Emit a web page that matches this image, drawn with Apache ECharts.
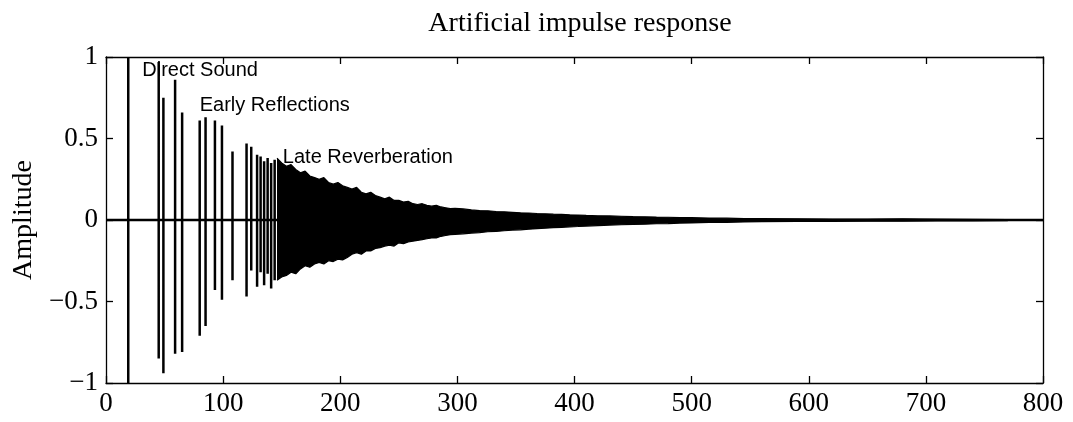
<!DOCTYPE html>
<html>
<head>
<meta charset="utf-8">
<script src="https://cdn.jsdelivr.net/npm/echarts@6/dist/echarts.min.js"></script>
<style>
  html, body { margin: 0; padding: 0; background: #fff; }
  #chart { width: 1073px; height: 422px; }
</style>
</head>
<body>
<div id="chart"></div>
<script>
// direct sound + early reflections: sample index, positive peak, negative peak
const spikeT = [19, 45, 49, 59, 65, 80, 85, 93, 99, 108, 120, 124, 129, 132, 135, 138, 141, 144];
const spikeUp = [1.0, 0.97, 0.75, 0.86, 0.66, 0.61, 0.63, 0.61, 0.58, 0.42, 0.47, 0.45, 0.40, 0.39, 0.36, 0.38, 0.35, 0.37];
const spikeDown = [-1.0, -0.85, -0.94, -0.82, -0.81, -0.71, -0.65, -0.43, -0.49, -0.37, -0.47, -0.31, -0.41, -0.32, -0.40, -0.33, -0.42, -0.37];

// late reverberation envelope (upper / lower edge of the dense part)
const revT = [146, 150, 154, 158, 162, 166, 170, 174, 178, 182, 186, 190, 194, 198, 202, 206, 210, 214, 218, 222,
  226, 230, 234, 238, 242, 246, 250, 254, 258, 262, 266, 270, 274, 278, 282, 286, 290, 294, 298,
  305, 312, 319, 326, 333, 340, 347, 354, 361, 368, 375, 382, 389, 396, 403, 410, 420, 430, 440, 450,
  460, 470, 480, 490, 500, 515, 530, 545, 560, 590, 620, 650, 680, 710, 740, 770];
const revUp = [0.38, 0.35, 0.33, 0.34, 0.31, 0.29, 0.30, 0.27, 0.26, 0.25, 0.26, 0.23, 0.22, 0.23, 0.21, 0.20, 0.19, 0.20, 0.17, 0.16,
  0.17, 0.15, 0.14, 0.13, 0.14, 0.12, 0.12, 0.11, 0.115, 0.10, 0.095, 0.10, 0.09, 0.085, 0.09, 0.08, 0.075, 0.07, 0.072,
  0.068, 0.062, 0.058, 0.056, 0.052, 0.05, 0.047, 0.044, 0.043, 0.04, 0.038, 0.036, 0.035, 0.032, 0.03, 0.028, 0.026, 0.025, 0.023, 0.021,
  0.02, 0.018, 0.017, 0.015, 0.014, 0.012, 0.011, 0.009, 0.008, 0.007, 0.006, 0.006, 0.007, 0.005, 0.004, 0.003];
const revDown = [-0.37, -0.35, -0.34, -0.32, -0.33, -0.30, -0.28, -0.29, -0.27, -0.26, -0.27, -0.25, -0.255, -0.24, -0.245, -0.23, -0.21, -0.20, -0.21, -0.19,
  -0.19, -0.175, -0.17, -0.16, -0.155, -0.16, -0.14, -0.145, -0.135, -0.13, -0.125, -0.12, -0.115, -0.11, -0.11, -0.10, -0.095, -0.09, -0.088,
  -0.085, -0.08, -0.077, -0.072, -0.07, -0.066, -0.062, -0.06, -0.056, -0.053, -0.05, -0.047, -0.045, -0.042, -0.04, -0.037, -0.034, -0.031, -0.029, -0.027,
  -0.026, -0.023, -0.022, -0.019, -0.018, -0.015, -0.014, -0.012, -0.01, -0.009, -0.008, -0.007, -0.007, -0.006, -0.005, -0.004];

// annotations: left edge sample, amplitude, text
const noteT = [31, 80, 151];
const noteAmp = [0.92, 0.705, 0.386];
const noteText = ["Direct Sound", "Early Reflections", "Late Reverberation"];

const xTicks = [0, 800, 100]; // min, max, interval
const yTicks = [-1, 1, 0.5];

const serif = "'Liberation Serif', 'DejaVu Serif', serif";
const sans = "'Liberation Sans', Arial, sans-serif";
const ink = "#000";

// signal line: zero baseline with vertical spikes
const signal = [[0, 0]];
spikeT.forEach((t, i) => {
  signal.push([t, 0], [t, spikeUp[i]], [t, spikeDown[i]], [t, 0]);
});
signal.push([800, 0]);

const upper = revT.map((t, i) => [t, revUp[i]]);
const lower = revT.map((t, i) => [t, revDown[i]]);
const notes = noteT.map((t, i) => [t, noteAmp[i], noteText[i]]);

const fmtY = v => (v < 0 ? "\u2212" + Math.abs(v) : String(v));

const chart = echarts.init(document.getElementById("chart"), null, { renderer: "canvas" });

const axisCommon = {
  type: "value",
  axisLine: { show: true, onZero: false, lineStyle: { color: ink, width: 1.3 } },
  axisTick: { show: true, inside: true, length: 7, lineStyle: { color: ink, width: 1.3 } },
  splitLine: { show: false },
};

chart.setOption({
  animation: false,
  backgroundColor: "#fff",
  title: {
    text: "Artificial impulse response",
    left: 575,
    textAlign: "center",
    top: 5,
    textStyle: { fontFamily: serif, fontSize: 28, fontWeight: "normal", color: ink },
  },
  grid: { left: 106, right: 30, top: 57, bottom: 39 },
  xAxis: [
    Object.assign({}, axisCommon, {
      min: xTicks[0], max: xTicks[1], interval: xTicks[2],
      position: "bottom",
      axisLabel: { fontFamily: serif, fontSize: 27, color: ink, margin: 7 },
    }),
    Object.assign({}, axisCommon, {
      min: xTicks[0], max: xTicks[1], interval: xTicks[2],
      position: "top",
      axisLabel: { show: false },
    }),
  ],
  yAxis: [
    Object.assign({}, axisCommon, {
      min: yTicks[0], max: yTicks[1], interval: yTicks[2],
      position: "left",
      name: "Amplitude",
      nameLocation: "middle",
      nameRotate: 90,
      nameGap: 66,
      nameTextStyle: { fontFamily: serif, fontSize: 28, color: ink },
      axisLabel: { fontFamily: serif, fontSize: 27, color: ink, margin: 8, formatter: fmtY },
    }),
    Object.assign({}, axisCommon, {
      min: yTicks[0], max: yTicks[1], interval: yTicks[2],
      position: "right",
      axisLabel: { show: false },
    }),
  ],
  series: [
    {
      type: "line",
      data: upper,
      symbol: "none",
      lineStyle: { color: ink, width: 1.2 },
      areaStyle: { color: ink, opacity: 1 },
      z: 2,
    },
    {
      type: "line",
      data: lower,
      symbol: "none",
      lineStyle: { color: ink, width: 1.2 },
      areaStyle: { color: ink, opacity: 1 },
      z: 2,
    },
    {
      type: "line",
      data: signal,
      symbol: "none",
      lineStyle: { color: ink, width: 2.5 },
      z: 3,
    },
    {
      type: "scatter",
      data: notes,
      symbolSize: 0,
      itemStyle: { color: ink, opacity: 1 },
      label: {
        show: true,
        position: "right",
        distance: 0,
        formatter: p => p.value[2],
        fontFamily: sans,
        fontSize: 20,
        color: "#000",
        opacity: 1,
      },
      z: 5,
    },
  ],
});
</script>
</body>
</html>
